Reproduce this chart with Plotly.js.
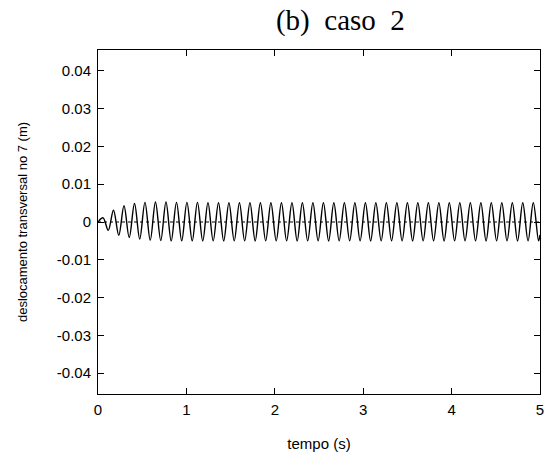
<!DOCTYPE html>
<html>
<head>
<meta charset="utf-8">
<script src="https://cdn.plot.ly/plotly-3.0.1.min.js"></script>
<style>
  html, body { margin: 0; padding: 0; background: #fff; }
  #chart { width: 549px; height: 456px; }
</style>
</head>
<body>
<div id="chart"></div>
<script>
// Transverse displacement at node 7 (case 2): start point, successive
// peaks/troughs of the oscillation, and the final sample at t = 5 s.
const tempo = [
  0.000,
  0.057, 0.116, 0.175, 0.235, 0.294, 0.353, 0.413, 0.472, 0.531, 0.591,
  0.650, 0.710, 0.769, 0.828, 0.888, 0.947, 1.006, 1.066, 1.125, 1.185,
  1.244, 1.303, 1.363, 1.422, 1.481, 1.541, 1.600, 1.659, 1.719, 1.778,
  1.837, 1.897, 1.956, 2.016, 2.075, 2.134, 2.194, 2.253, 2.312, 2.372,
  2.431, 2.490, 2.550, 2.609, 2.668, 2.728, 2.787, 2.847, 2.906, 2.965,
  3.025, 3.084, 3.143, 3.203, 3.262, 3.321, 3.381, 3.440, 3.500, 3.559,
  3.618, 3.678, 3.737, 3.796, 3.856, 3.915, 3.974, 4.034, 4.093, 4.152,
  4.212, 4.271, 4.331, 4.390, 4.449, 4.509, 4.568, 4.627, 4.687, 4.746,
  4.805, 4.865, 4.924, 4.984,
  5.000
];

const deslocamento = [
  0.0000,
  0.0011, -0.0022, 0.0031, -0.0035, 0.0043, -0.0041, 0.0049, -0.0045, 0.0052, -0.0048,
  0.0053, -0.0049, 0.0053, -0.0050, 0.0052, -0.0050, 0.0052, -0.0050, 0.0052, -0.0050,
  0.0051, -0.0050, 0.0051, -0.0050, 0.0051, -0.0050, 0.0051, -0.0050, 0.0051, -0.0050,
  0.0051, -0.0050, 0.0051, -0.0050, 0.0051, -0.0050, 0.0051, -0.0050, 0.0051, -0.0050,
  0.0051, -0.0050, 0.0051, -0.0050, 0.0051, -0.0050, 0.0051, -0.0050, 0.0051, -0.0050,
  0.0051, -0.0050, 0.0051, -0.0050, 0.0051, -0.0050, 0.0051, -0.0050, 0.0051, -0.0050,
  0.0051, -0.0050, 0.0051, -0.0050, 0.0051, -0.0050, 0.0051, -0.0050, 0.0051, -0.0050,
  0.0051, -0.0050, 0.0051, -0.0050, 0.0051, -0.0050, 0.0051, -0.0050, 0.0051, -0.0050,
  0.0051, -0.0050, 0.0051, -0.0050,
  -0.0034
];

const xTickVals = [0, 1, 2, 3, 4, 5];
const xTickText = ['0', '1', '2', '3', '4', '5'];
const yTickVals = [0.04, 0.03, 0.02, 0.01, 0, -0.01, -0.02, -0.03, -0.04];
const yTickText = ['0.04', '0.03', '0.02', '0.01', '0', '-0.01', '-0.02', '-0.03', '-0.04'];

const sans = 'Liberation Sans, Arial, sans-serif';
const tickFont = { family: sans, size: 15, color: '#000' };

const trace = {
  x: tempo,
  y: deslocamento,
  type: 'scatter',
  mode: 'lines',
  line: { color: '#000', width: 1.4, shape: 'spline', smoothing: 1 },
  hoverinfo: 'x+y'
};

const axisCommon = {
  showline: true,
  linecolor: '#000',
  linewidth: 1,
  mirror: 'ticks',
  ticks: 'inside',
  ticklen: 6,
  tickwidth: 1,
  tickcolor: '#000',
  showgrid: false,
  zeroline: false,
  tickfont: tickFont,
  tickmode: 'array'
};

const layout = {
  width: 549,
  height: 456,
  margin: { l: 98, r: 9, t: 50, b: 62 },
  paper_bgcolor: '#fff',
  plot_bgcolor: '#fff',
  showlegend: false,
  title: {
    text: '(b)\u00a0 caso\u00a0 2',
    font: { family: 'Liberation Serif, Times New Roman, serif', size: 29, color: '#000' },
    xref: 'container',
    yref: 'container',
    x: 0.62,
    xanchor: 'center',
    y: 0.957,
    yanchor: 'middle'
  },
  xaxis: Object.assign({}, axisCommon, {
    range: [0, 5],
    tickvals: xTickVals,
    ticktext: xTickText,
    ticklabelstandoff: 2,
    title: { text: 'tempo (s)', font: { family: sans, size: 15, color: '#000' }, standoff: 21 }
  }),
  yaxis: Object.assign({}, axisCommon, {
    range: [-0.0455, 0.0455],
    tickvals: yTickVals,
    ticktext: yTickText,
    ticklabelstandoff: 3,
    title: { text: 'deslocamento transversal no 7 (m)', font: { family: sans, size: 13, color: '#000' }, standoff: 26 }
  }),
  shapes: [{
    type: 'line',
    xref: 'paper', yref: 'y',
    x0: 0, x1: 1, y0: 0, y1: 0,
    line: { color: '#000', width: 1, dash: 'dot' },
    layer: 'below'
  }]
};

Plotly.newPlot('chart', [trace], layout, { displayModeBar: false, staticPlot: true });
</script>
</body>
</html>
